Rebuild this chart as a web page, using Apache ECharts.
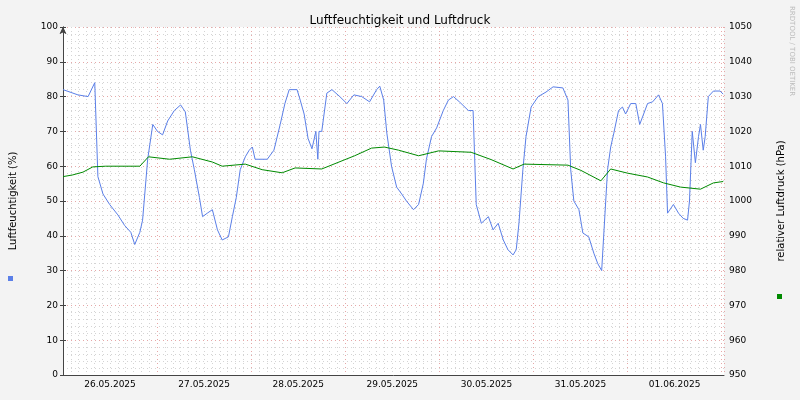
<!DOCTYPE html>
<html>
<head>
<meta charset="utf-8">
<script src="https://cdn.jsdelivr.net/npm/echarts@6/dist/echarts.min.js"></script>
<style>
  html, body { margin: 0; padding: 0; background: #f3f3f3; }
  #chart { width: 800px; height: 400px; }
</style>
</head>
<body>
<div id="chart"></div>
<script>
"use strict";

// hours since 26.05.2025 00:00
var humHours = [0, 3.8, 6.4, 8.1, 8.9, 10.2, 11.9, 14, 15.7, 17.3, 18.3, 19.6, 20.3, 21.6, 22.9, 24.1, 25.4, 26.7, 28.4, 30, 31.2, 32.5, 33.5, 34.8, 35.6, 36.8, 38.1, 39.4, 40.6, 42.2, 43.2, 44.2, 45.2, 46.5, 47.5, 48.3, 49, 52.1, 53.8, 55.4, 56.6, 57.7, 59.7, 60.5, 61.5, 62.5, 63.5, 64.5, 65, 65.3, 66, 67.3, 68.6, 70.6, 72.4, 74.2, 76.2, 78.2, 80, 80.8, 81.8, 82.6, 83.8, 85.1, 86.4, 87.6, 89.4, 90.7, 91.9, 92.7, 94, 95.3, 97, 98.3, 99.6, 101.1, 103.4, 104.6, 105.4, 106.7, 108.5, 109.7, 111, 112.3, 113.5, 114.8, 115.6, 116.3, 117.3, 118.1, 119.4, 121.2, 123.2, 125, 127.5, 128.8, 129.5, 130.3, 131.6, 132.6, 134.1, 135.4, 136.4, 137.4, 137.9, 138.9, 139.7, 140.5, 141.7, 142.7, 143.5, 144.8, 146.1, 147.1, 148.1, 149.1, 150.4, 151.9, 152.9, 153.7, 154.2, 155.7, 157, 158.2, 159.3, 159.8, 160.5, 161.3, 162.1, 162.6, 163.3, 163.8, 164.6, 165.9, 167.6, 168.4];
var humValues = [82, 80.5, 80, 84, 57, 52, 49, 46, 43, 41, 37.5, 41, 44.5, 62, 72, 70, 69, 73, 76, 77.6, 75.6, 64.6, 59, 51, 45.5, 46.5, 47.5, 41.7, 38.8, 39.7, 45.5, 51, 59, 62.7, 64.6, 65.5, 62, 62, 64.6, 72, 78, 82, 82, 79, 75, 68, 65, 70, 62, 70, 70, 81, 82, 80, 78, 80.5, 80, 78.5, 82, 83, 79, 69.5, 60, 54, 52, 50, 47.5, 49, 55, 62, 68.5, 71, 76, 79, 80, 78.5, 76, 76, 49, 43.6, 45.5, 41.7, 43.6, 38.8, 36, 34.5, 36, 43.6, 59, 68.5, 77, 80, 81.3, 82.8, 82.5, 79, 59, 50, 47.5, 40.8, 39.7, 35, 32, 30, 39.7, 59, 65.5, 69.5, 76, 77, 75, 78, 78, 72, 75, 78, 78.5, 80.5, 78, 62.7, 46.5, 49, 46.5, 45, 44.5, 50, 70, 61, 68.5, 72, 64.6, 68.5, 80, 81.6, 81.6, 80.7];

var presHours = [0, 2.5, 5.1, 7.6, 10.9, 19.6, 21.8, 27.2, 33, 38.1, 40.6, 46.5, 50.8, 55.9, 59.2, 66, 70.4, 74.4, 78.7, 82, 85.6, 90.7, 95.8, 104.1, 109.2, 114.8, 117.6, 128.8, 132.1, 137.2, 139.7, 144, 149.1, 153.2, 157.5, 162.6, 165.9, 168.4];
var presValues = [1007, 1007.5, 1008.3, 1009.8, 1010, 1010, 1012.7, 1012, 1012.7, 1011.2, 1010, 1010.6, 1009, 1008.1, 1009.5, 1009.2, 1011.2, 1013, 1015.2, 1015.5, 1014.6, 1013, 1014.4, 1014, 1011.9, 1009.2, 1010.6, 1010.3, 1008.8, 1005.8, 1009.2, 1008, 1006.9, 1005.2, 1004, 1003.4, 1005.2, 1005.6];

var dayLabels = ['26.05.2025', '27.05.2025', '28.05.2025', '29.05.2025', '30.05.2025', '31.05.2025', '01.06.2025'];

function pairs(xs, ys) {
    var out = [];
    for (var i = 0; i < xs.length; i++) out.push([xs[i], ys[i]]);
    return out;
}

var font = 'DejaVu Sans';
var minorDot = { show: true, lineStyle: { color: '#d4d4d4', type: [1, 3], width: 1 } };
var majorDot = { show: true, lineStyle: { color: '#e6a8a8', type: [1, 3], width: 1 } };
var axisLine = { show: true, symbol: ['none', 'arrow'], symbolSize: [5, 7], lineStyle: { color: '#444' } };

var myChart = echarts.init(document.getElementById('chart'));
var option = {
    backgroundColor: '#f3f3f3',
    animation: false,
    textStyle: { fontFamily: font },
    title: {
        text: 'Luftfeuchtigkeit und Luftdruck',
        left: 'center', top: 10,
        textStyle: { fontSize: 12, fontWeight: 'normal', color: '#000', fontFamily: font }
    },
    graphic: [
        { type: 'rect', left: 8, top: 276, shape: { width: 5, height: 5 }, style: { fill: '#5b7fe8' } },
        { type: 'rect', left: 777, top: 294, shape: { width: 5, height: 5 }, style: { fill: '#008a00' } },
        { type: 'text', left: 788, top: 6, rotation: -Math.PI / 2,
          style: { text: 'RRDTOOL / TOBI OETIKER', fill: '#bbb', font: '7px DejaVu Sans' } }
    ],
    grid: { left: 60, right: 76, top: 27, bottom: 25, show: true, backgroundColor: '#fff', borderWidth: 0 },
    xAxis: [
        {
            type: 'value', min: 0, max: 168.6, interval: 24,
            axisLine: { show: true, lineStyle: { color: '#444' } },
            axisTick: { show: false }, axisLabel: { show: false },
            splitLine: majorDot,
            minorTick: { show: false, splitNumber: 12 },
            minorSplitLine: minorDot
        },
        {
            type: 'value', min: 0, max: 168.6, interval: 12, position: 'bottom',
            axisLine: { show: false }, axisTick: { show: false }, splitLine: { show: false },
            axisLabel: {
                fontSize: 9, color: '#000', fontFamily: font, margin: 5,
                formatter: function (v) {
                    if (v % 24 === 12) return dayLabels[Math.floor(v / 24)] || '';
                    return '';
                }
            }
        }
    ],
    yAxis: [
        {
            type: 'value', min: 0, max: 100, interval: 10,
            name: 'Luftfeuchtigkeit (%)', nameLocation: 'middle', nameGap: 45, nameRotate: 90,
            nameTextStyle: { fontSize: 10, color: '#000', fontFamily: font },
            axisLine: axisLine, axisTick: { show: true, length: 3, lineStyle: { color: '#444' } },
            axisLabel: { fontSize: 9, color: '#000', fontFamily: font, margin: 5 },
            splitLine: majorDot,
            minorTick: { show: false, splitNumber: 5 },
            minorSplitLine: minorDot
        },
        {
            type: 'value', min: 950, max: 1050, interval: 10,
            name: 'relativer Luftdruck (hPa)', nameLocation: 'middle', nameGap: 52, nameRotate: 90,
            nameTextStyle: { fontSize: 10, color: '#000', fontFamily: font },
            axisLine: axisLine, axisTick: { show: true, length: 3, lineStyle: { color: '#444' } },
            axisLabel: { fontSize: 9, color: '#000', fontFamily: font, margin: 5,
                         formatter: function (v) { return String(v); } },
            splitLine: { show: false }
        }
    ],
    series: [
        {
            name: 'Luftfeuchtigkeit', type: 'line', showSymbol: false,
            xAxisIndex: 0, yAxisIndex: 0,
            lineStyle: { color: '#5b7fe8', width: 1 },
            data: pairs(humHours, humValues)
        },
        {
            name: 'Luftdruck', type: 'line', showSymbol: false,
            xAxisIndex: 0, yAxisIndex: 1,
            lineStyle: { color: '#008a00', width: 1 },
            data: pairs(presHours, presValues)
        }
    ]
};

if (option && typeof option === "object") {
    myChart.setOption(option, true);
}
</script>
</body>
</html>
